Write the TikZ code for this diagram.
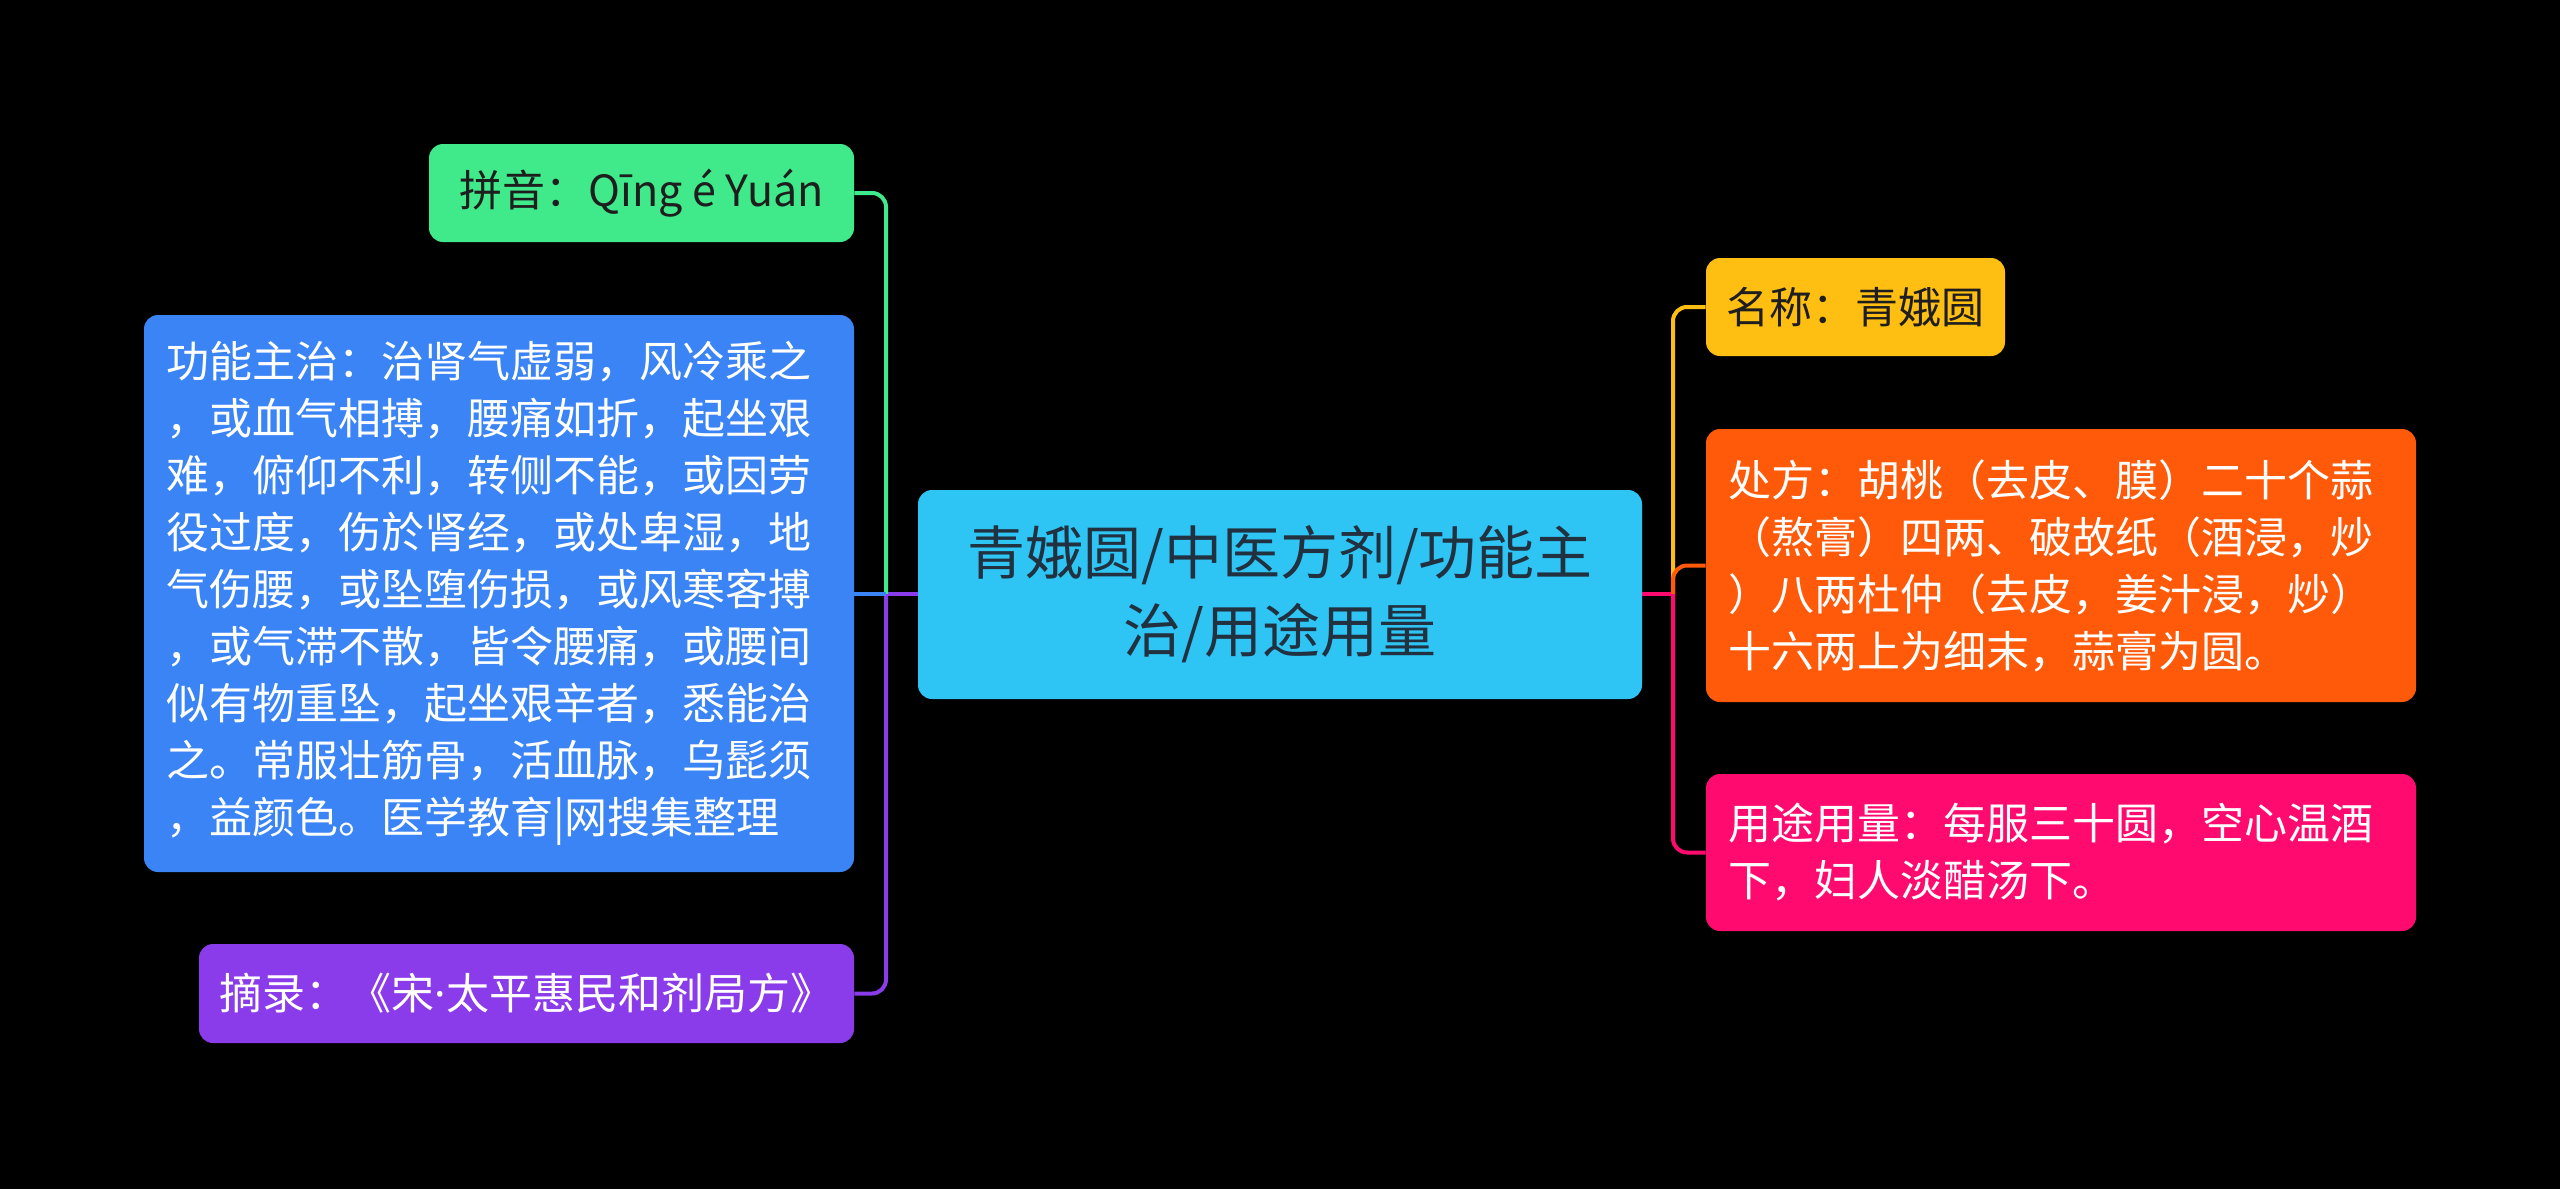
\documentclass[tikz,border=0pt]{standalone}
\usepackage{fontspec}
\setmainfont{Noto Sans CJK SC}
\newfontfamily\latinfont{Noto Sans}
\definecolor{cCenter}{HTML}{2EC5F5}
\definecolor{cGreen}{HTML}{40EA8A}
\definecolor{cBlue}{HTML}{3B84F5}
\definecolor{cPurple}{HTML}{8A3CEA}
\definecolor{cYellow}{HTML}{FFBF12}
\definecolor{cOrange}{HTML}{FF5A0A}
\definecolor{cPink}{HTML}{FF0A6E}
\definecolor{cDark}{HTML}{1E1E1E}
\definecolor{cSlate}{HTML}{22313F}
\begin{document}
\begin{tikzpicture}[x=0.5pt,y=-0.5pt,
  box/.style={rounded corners=7pt, inner sep=0pt, font=\fontsize{21.5pt}{28.5pt}\selectfont},
  wide/.style={minimum width=355pt, text width=333pt, align=left},
  link/.style={line width=2pt, rounded corners=7pt}]
\fill[black] (0,0) rectangle (2560,1189);
\useasboundingbox (0,0) rectangle (2560,1189);

\node[box, fill=cCenter, text=cSlate, minimum width=362pt, minimum height=104.5pt,
  align=center, font=\fontsize{29pt}{39pt}\selectfont] (center) at (1280,594.5)
  {青娥圆/中医方剂/功能主\\治/用途用量};

\node[box, fill=cGreen, text=cDark, minimum width=212.5pt, minimum height=49pt] (pinyin) at (641.5,193)
  {拼音：Qīng é Yuán};
\node[box, wide, fill=cBlue, text=white, minimum height=278.5pt] (func) at (499,593.5)
  {功能主治：治肾气虚弱，风冷乘之\\
   ，或血气相搏，腰痛如折，起坐艰\\
   难，俯仰不利，转侧不能，或因劳\\
   役过度，伤於肾经，或处卑湿，地\\
   气伤腰，或坠堕伤损，或风寒客搏\\
   ，或气滞不散，皆令腰痛，或腰间\\
   似有物重坠，起坐艰辛者，悉能治\\
   之。常服壮筋骨，活血脉，乌髭须\\
   ，益颜色。医学教育|网搜集整理};
\node[box, fill=cPurple, text=white, minimum width=327.5pt, minimum height=49.5pt] (excerpt) at (526.5,993.5)
  {摘录：《宋{\latinfont ·}太平惠民和剂局方》};

\node[box, fill=cYellow, text=cDark, minimum width=149.5pt, minimum height=49pt] (name) at (1855.5,307)
  {名称：青娥圆};
\node[box, wide, fill=cOrange, text=white, minimum height=136.5pt] (presc) at (2061,565.5)
  {处方：胡桃（去皮、膜）二十个蒜\\
   （熬膏）四两、破故纸（酒浸，炒\\
   ）八两杜仲（去皮，姜汁浸，炒）\\
   十六两上为细末，蒜膏为圆。};
\node[box, wide, fill=cPink, text=white, minimum height=78.5pt] (usage) at (2061,852.5)
  {用途用量：每服三十圆，空心温酒\\
   下，妇人淡醋汤下。};

\coordinate (L) at (886,594);
\coordinate (R) at (1673,594);

\draw[link, cPurple] (center.west |- L) -- (L);
\draw[link, cGreen] (L) -- (L |- pinyin.east) -- (pinyin.east);
\draw[link, cPurple] (L) -- (L |- excerpt.east) -- (excerpt.east);
\draw[link, cBlue] (L) -- (func.east |- L);

\draw[link, cPink] (center.east |- R) -- (R);
\draw[link, cYellow] (R) -- (R |- name.west) -- (name.west);
\draw[link, cOrange] (R) -- (R |- presc.west) -- (presc.west);
\draw[link, cPink] (R) -- (R |- usage.west) -- (usage.west);
\end{tikzpicture}
\end{document}
